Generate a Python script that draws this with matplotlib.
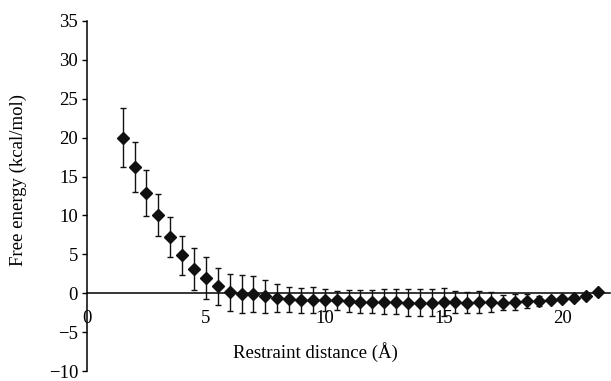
import numpy as np
import matplotlib.pyplot as plt

# restraint distance (Å) and free energy (kcal/mol) with error bars
distance = [1.5, 2.0, 2.5, 3.0, 3.5, 4.0, 4.5, 5.0, 5.5, 6.0, 6.5, 7.0, 7.5, 8.0,
            8.5, 9.0, 9.5, 10.0, 10.5, 11.0, 11.5, 12.0, 12.5, 13.0, 13.5, 14.0,
            14.5, 15.0, 15.5, 16.0, 16.5, 17.0, 17.5, 18.0, 18.5, 19.0, 19.5,
            20.0, 20.5, 21.0, 21.5]
energy = [20.0, 16.2, 12.9, 10.0, 7.2, 4.9, 3.1, 1.9, 0.9, 0.1, -0.1, -0.1, -0.4, -0.6,
          -0.8, -0.9, -0.9, -0.9, -0.9, -1.0, -1.1, -1.1, -1.1, -1.1, -1.2, -1.2,
          -1.2, -1.1, -1.1, -1.2, -1.1, -1.1, -1.2, -1.1, -1.0, -1.0, -0.9,
          -0.7, -0.6, -0.4, 0.1]
error = [3.8, 3.2, 3.0, 2.7, 2.6, 2.5, 2.7, 2.7, 2.4, 2.4, 2.4, 2.3, 2.1, 1.8,
         1.6, 1.6, 1.7, 1.4, 1.2, 1.4, 1.5, 1.5, 1.6, 1.6, 1.7, 1.7,
         1.7, 1.8, 1.4, 1.4, 1.4, 1.3, 1.0, 1.0, 0.9, 0.6, 0.4,
         0.2, 0.1, 0.0, 0.0]

yticks = [-10, -5, 0, 5, 10, 15, 20, 25, 30, 35]
xticks = [0, 5, 10, 15, 20]

plt.rcParams['font.family'] = ['Liberation Serif', 'DejaVu Serif']
plt.rcParams['font.size'] = 13.5

fig = plt.figure(figsize=(6.11, 3.81), dpi=100)
ax = fig.add_axes([0.1424, 0.0262, 0.856, 0.9187])

ax.errorbar(distance, energy, yerr=error, fmt='D', color='#111111', markersize=6,
            ecolor='#111111', elinewidth=1.0, capsize=2.2, capthick=1.0, zorder=3)

ax.set_xlim(0, 22)
ax.set_ylim(-10, 35)
ax.set_yticks(yticks)
ax.set_xticks(xticks)

ax.spines['top'].set_visible(False)
ax.spines['right'].set_visible(False)
ax.spines['bottom'].set_position(('data', 0))
ax.spines['bottom'].set_linewidth(1.1)
ax.spines['left'].set_linewidth(1.1)

ax.tick_params(axis='y', direction='out', length=3.5, width=1.0, pad=3)
ax.tick_params(axis='x', length=0, pad=12)

ax.set_ylabel('Free energy (kcal/mol)', va='center')
ax.yaxis.set_label_coords((18 - 87) / 523, (371 - 180) / 350)
ax.set_xlabel('Restraint distance (Å)', va='center')
ax.xaxis.set_label_coords((315 - 87) / 523, (371 - 352) / 350)

fig.savefig('out.png', dpi=100)
